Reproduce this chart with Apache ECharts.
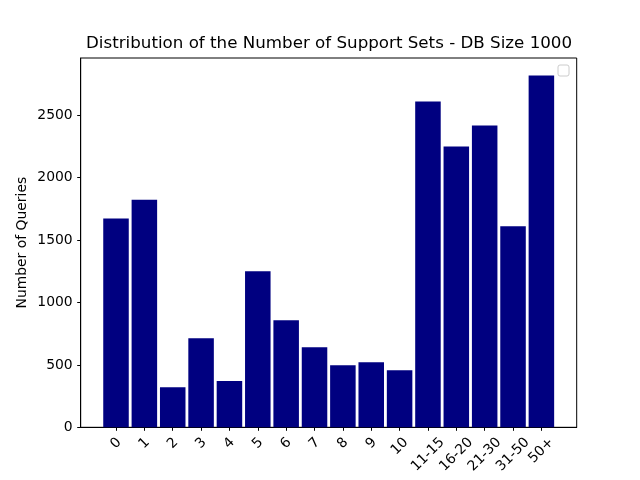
<!DOCTYPE html>
<html>
<head>
<meta charset="utf-8">
<script src="https://cdn.jsdelivr.net/npm/echarts@6/dist/echarts.min.js"></script>
<style>
  html, body { margin: 0; padding: 0; background: #fff; }
  #main { width: 640px; height: 480px; }
</style>
</head>
<body>
<div id="main"></div>
<script>
// categories of support set counts
const categories = ['0', '1', '2', '3', '4', '5', '6', '7', '8', '9', '10',
                    '11-15', '16-20', '21-30', '31-50', '50+'];
// number of queries per category
const counts = [1672, 1824, 320, 714, 370, 1250, 858, 642, 498, 522, 458,
                2610, 2250, 2418, 1610, 2818];
const yTicks = [0, 500, 1000, 1500, 2000, 2500];
const xTicks = categories.map((c, i) => i);

const font = 'DejaVu Sans';
const tickFont = 13.9;
// matplotlib style limits: 5% margin around the data
const xMin = -0.45 - 0.05 * 15.9;
const xMax = 15.45 + 0.05 * 15.9;
const yMax = Math.max(...counts) * 1.05;

// rotated labels are centred under their tick like matplotlib:
// shift each one by a padding that depends on its own width
let ctx = document.createElement('canvas').getContext('2d');
ctx.font = tickFont + 'px "' + font + '"';
let rich = {};
categories.forEach((c, i) => {
    let w = ctx.measureText(c).width;
    rich['l' + i] = {
        fontFamily: font, fontSize: tickFont, color: '#000',
        padding: [w / 2, w / 2, 0, 0]
    };
});

let myChart = echarts.init(document.getElementById('main'));
let option = {
    animation: false,
    backgroundColor: '#fff',
    title: {
        text: 'Distribution of the Number of Support Sets - DB Size 1000',
        left: 86,
        top: 35,
        padding: 0,
        textStyle: { fontFamily: font, fontSize: 16.7, fontWeight: 'normal', color: '#000' }
    },
    grid: {
        left: 80.7, right: 63.3, top: 58, bottom: 52.7,
        show: true, borderColor: '#000', borderWidth: 1,
        containLabel: false
    },
    xAxis: {
        type: 'value',
        min: xMin,
        max: xMax,
        axisLine: { show: true, onZero: false, lineStyle: { color: '#000', width: 1 } },
        axisTick: { show: true, length: 3.5, customValues: xTicks, lineStyle: { color: '#000' } },
        axisLabel: {
            customValues: xTicks,
            rotate: 45,
            align: 'center',
            verticalAlign: 'middle',
            margin: 13,
            fontFamily: font,
            fontSize: tickFont,
            color: '#000',
            rich: rich,
            formatter: v => {
                let i = Math.round(v);
                return '{l' + i + '|' + categories[i] + '}';
            }
        },
        splitLine: { show: false }
    },
    yAxis: {
        type: 'value',
        min: 0,
        max: yMax,
        name: 'Number of Queries',
        nameLocation: 'middle',
        nameGap: 51,
        nameMoveOverlap: false,
        nameTextStyle: { fontFamily: font, fontSize: tickFont, color: '#000' },
        axisLine: { show: true, onZero: false, lineStyle: { color: '#000', width: 1 } },
        axisTick: { show: true, length: 3.5, customValues: yTicks, lineStyle: { color: '#000' } },
        axisLabel: {
            customValues: yTicks,
            margin: 8,
            fontFamily: font,
            fontSize: tickFont,
            color: '#000',
            formatter: v => String(v)
        },
        splitLine: { show: false }
    },
    series: [{
        type: 'bar',
        barWidth: '90%',
        itemStyle: { color: '#000080' },
        data: categories.map((c, i) => [i, counts[i]])
    }],
    graphic: [{
        // empty legend box in the top right corner
        type: 'rect',
        shape: { x: 558, y: 65, width: 11, height: 11, r: 2 },
        style: { fill: '#fff', stroke: '#cccccc', lineWidth: 1 }
    }]
};
myChart.setOption(option);
</script>
</body>
</html>
